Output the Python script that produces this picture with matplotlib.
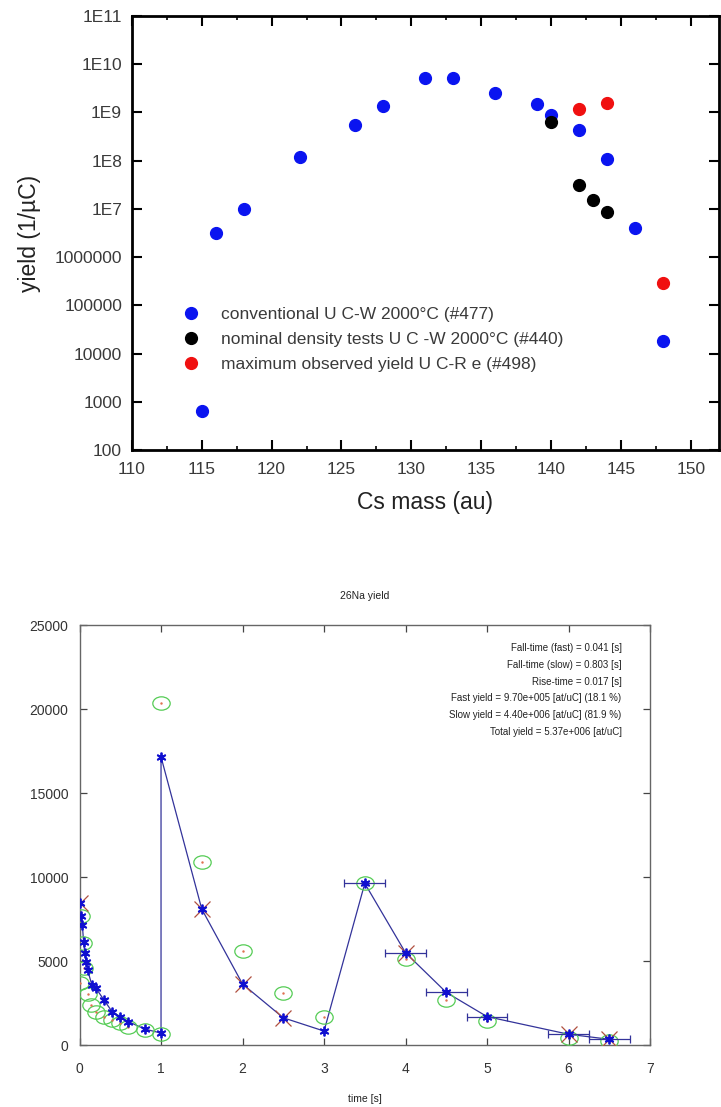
import numpy as np
import matplotlib
matplotlib.use("Agg")
import matplotlib.pyplot as plt
from matplotlib.path import Path
from matplotlib.ticker import FixedLocator, NullFormatter, LogLocator

plt.rcParams['font.family'] = ['Liberation Sans', 'DejaVu Sans']

# ---- top panel: Cs yields vs mass
conv_mass = [115, 116, 118, 122, 126, 128, 131, 133, 136, 139, 140, 142, 144, 146, 148]
conv_yield = [650, 3.2e6, 1.0e7, 1.2e8, 5.4e8, 1.35e9, 5.2e9, 5.2e9, 2.5e9, 1.5e9,
              9.0e8, 4.3e8, 1.1e8, 4.0e6, 1.8e4]
dens_mass = [140, 142, 143, 144]
dens_yield = [6.3e8, 3.1e7, 1.5e7, 8.8e6]
max_mass = [142, 144, 148]
max_yield = [1.2e9, 1.6e9, 2.9e5]

legend_labels = ["conventional U C-W 2000°C (#477)",
                 "nominal density tests U C -W 2000°C (#440)",
                 "maximum observed yield U C-R e (#498)"]
ytick_vals = [1e2, 1e3, 1e4, 1e5, 1e6, 1e7, 1e8, 1e9, 1e10, 1e11]
ytick_labels = ["100", "1000", "10000", "100000", "1000000",
                "1E7", "1E8", "1E9", "1E10", "1E11"]
xtick_vals = [110, 115, 120, 125, 130, 135, 140, 145, 150]

# ---- bottom panel: 26Na release curve
fit_t = [0, 0.02, 0.035, 0.05, 0.065, 0.08, 0.1, 0.15, 0.2, 0.3, 0.4, 0.5, 0.6, 0.8,
         1.0, 1.0, 1.5, 2.0, 2.5, 3.0, 3.5, 4.0, 4.5, 5.0, 6.0, 6.5]
fit_v = [8450, 7680, 7140, 6130, 5470, 4940, 4460, 3590, 3390, 2680, 1980, 1690, 1390, 950,
         710, 17150, 8090, 3630, 1620, 830, 9620, 5490, 3130, 1690, 640, 340]
meas_t = [0.0, 0.02, 0.04, 0.06, 0.1, 0.14, 0.2, 0.3, 0.4, 0.5, 0.6, 0.8, 1.0,
          1.0, 1.5, 2.0, 2.5, 3.0, 3.5, 4.0, 4.5, 5.0, 6.0, 6.5]
meas_v = [3700, 7700, 6050, 4600, 3030, 2380, 1980, 1650, 1490, 1330, 1090, 890, 650,
          20350, 10870, 5570, 3070, 1650, 9660, 5100, 2680, 1430, 400, 240]
cross_t = [0, 1.5, 2.0, 2.5, 4.0, 6.0, 6.5]   # red x marks on the fit
err_from = 3.5                               # points with time bins
t_halfbin = 0.25

info_lines = ["Fall-time (fast) = 0.041 [s]",
              "Fall-time (slow) = 0.803 [s]",
              "Rise-time = 0.017 [s]",
              "Fast yield = 9.70e+005 [at/uC] (18.1 %)",
              "Slow yield = 4.40e+006 [at/uC] (81.9 %)",
              "Total yield = 5.37e+006 [at/uC]"]

fig = plt.figure(figsize=(7.21, 11.07), dpi=100)

# ================= top panel
ax = fig.add_axes([0.1827, 0.5935, 0.8145, 0.3920])
ax.set_yscale("log")
ms = 8.5
ax.plot(conv_mass, conv_yield, "o", color="#0a14f0", ms=ms, mec="#0a14f0", label=legend_labels[0])
ax.plot(dens_mass, dens_yield, "o", color="black", ms=ms, label=legend_labels[1])
ax.plot(max_mass, max_yield, "o", color="#f01010", ms=ms, mec="#f01010", label=legend_labels[2])

ax.set_xlim(110, 152)
ax.set_ylim(100, 1e11)
ax.set_xticks(xtick_vals)
ax.xaxis.set_minor_locator(FixedLocator(np.arange(112.5, 152, 5)))
ax.yaxis.set_major_locator(FixedLocator(ytick_vals))
ax.set_yticklabels(ytick_labels)
ax.yaxis.set_minor_locator(LogLocator(base=10, subs=np.arange(2, 10)))
ax.yaxis.set_minor_formatter(NullFormatter())

ax.tick_params(which="major", direction="in", length=7, width=1.5, labelsize=12.5,
               labelcolor="#3a3a3a", top=True, right=True, pad=7)
ax.tick_params(axis="x", which="major", pad=9)
ax.tick_params(which="minor", direction="in", length=3, width=1.2, top=True, right=False)
for s in ax.spines.values():
    s.set_linewidth(2)

ax.set_xlabel("Cs mass (au)", fontsize=16.5, color="#222222", labelpad=10)
ax.set_ylabel("yield (1/µC)", fontsize=16.5, color="#222222", labelpad=10)

leg = ax.legend(loc="upper left", bbox_to_anchor=(0.045, 0.365), frameon=False,
                fontsize=12.5, handletextpad=0.7, labelspacing=0.55, markerscale=1.0)
for t in leg.get_texts():
    t.set_color("#3a3a3a")

# ================= bottom panel
bx = fig.add_axes([0.1103, 0.0560, 0.7913, 0.3794])

circ = Path.unit_circle()
ellipse = Path(circ.vertices * np.array([1.3, 1.0]), circ.codes)

fit_t_arr = np.array(fit_t)
fit_v_arr = np.array(fit_v)
line_col = "#33339a"

bx.plot(fit_t, fit_v, "-", color=line_col, lw=0.9, zorder=2)
bx.plot(meas_t, meas_v, linestyle="none", marker=ellipse, ms=12.5, mfc="none",
        mec="#55cc55", mew=0.9, zorder=3)
bx.plot(meas_t, meas_v, linestyle="none", marker=".", ms=1.5, color="#e07050", zorder=3)

sel = np.isin(fit_t_arr, cross_t)
bx.plot(fit_t_arr[sel], fit_v_arr[sel], "x", color="#b05040", ms=11, mew=0.9, zorder=4)
bx.plot(fit_t, fit_v, linestyle="none", marker=(6, 2, 0), ms=7, mew=1.3, color="#1010d0", zorder=5)
bx.plot(fit_t, fit_v, linestyle="none", marker="o", ms=3, color="#1010d0", zorder=5)

eb = fit_t_arr >= err_from
bx.errorbar(fit_t_arr[eb], fit_v_arr[eb], xerr=t_halfbin, fmt="none", ecolor=line_col,
            elinewidth=0.9, capsize=3, capthick=0.9, zorder=4)

bx.set_xlim(0, 7)
bx.set_ylim(0, 25000)
bx.set_xticks(range(0, 8))
bx.set_yticks(range(0, 25001, 5000))
bx.tick_params(direction="in", length=5, width=0.9, labelsize=10, labelcolor="#333333",
               top=True, right=True, color="#444444")
bx.tick_params(axis="x", pad=12)
bx.tick_params(axis="y", pad=8)
for s in bx.spines.values():
    s.set_linewidth(1.0)
    s.set_color("#666666")

bx.set_title("26Na yield", fontsize=7.5, color="#222222", pad=19)
bx.set_xlabel("time [s]", fontsize=7.5, color="#222222", labelpad=13)

for i, line in enumerate(info_lines):
    bx.text(0.950, 0.945 - i * 0.0398, line, transform=bx.transAxes, ha="right",
            va="center", fontsize=7, color="#222222")

fig.savefig("out.png", dpi=100)
